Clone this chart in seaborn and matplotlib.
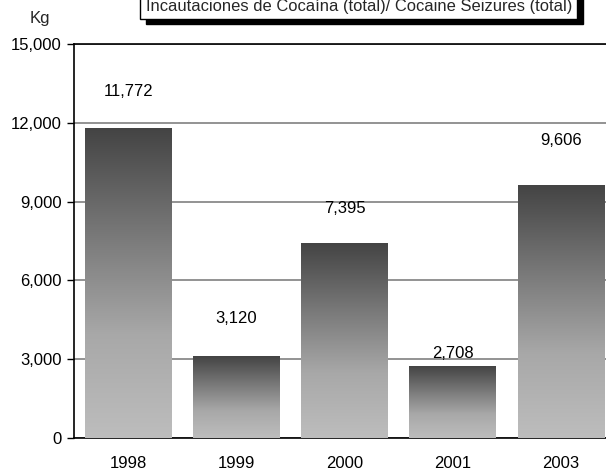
import numpy as np
import pandas as pd
import matplotlib
matplotlib.use("Agg")
import matplotlib.pyplot as plt
import matplotlib.patches as mpatches
from matplotlib.colors import LinearSegmentedColormap
import seaborn as sns

years = ["1998", "1999", "2000", "2001", "2003"]
seizures = [11772, 3120, 7395, 2708, 9606]
value_labels = ["11,772", "3,120", "7,395", "2,708", "9,606"]
label_offsets_px = [37, 38, 35, 13, 45]
y_ticks = [0, 3000, 6000, 9000, 12000, 15000]
y_tick_labels = ["0", "3,000", "6,000", "9,000", "12,000", "15,000"]
title = "Incautaciones de Cocaína (total)/ Cocaine Seizures (total)"
unit = "Kg"

sns.set_theme(style="white")
plt.rcParams['font.family'] = ['Liberation Sans', 'DejaVu Sans']

W, H = 606, 474
FS = 12
fig = plt.figure(figsize=(W / 100, H / 100), dpi=100)
ax = fig.add_axes([74 / W, 36 / H, 541 / W, 394 / H])

df = pd.DataFrame({"year": years, "kg": seizures})
sns.barplot(data=df, x="year", y="kg", ax=ax, width=0.8, color="#888888",
            saturation=1, errorbar=None, zorder=3)

cmap = LinearSegmentedColormap.from_list("g", ["#bdbdbd", "#a8a8a8", "#777777", "#444444"])
grad = np.linspace(0, 1, 256).reshape(-1, 1)
for p in ax.patches:
    x0, y0 = p.get_x(), p.get_y()
    w, h = p.get_width(), p.get_height()
    ax.imshow(grad, extent=[x0, x0 + w, y0, y0 + h], origin="lower",
              aspect="auto", cmap=cmap, zorder=4)
    p.set_facecolor("none")
    p.set_edgecolor("none")
ax.set_xlim(-0.5, len(years) - 0.5)
ax.set_ylim(0, 15000)

ax.set_yticks(y_ticks)
ax.set_yticklabels(y_tick_labels, fontsize=FS, color="black")
ax.yaxis.grid(True, color="#808080", linewidth=1.2, zorder=0)
ax.set_axisbelow(True)

ax.set_xticks(range(len(years)))
ax.set_xticklabels(years, fontsize=FS, color="black")
ax.set_xticks(np.arange(-0.5, len(years), 1.0), minor=True)
ax.tick_params(axis="x", which="major", length=0, pad=13)
ax.tick_params(axis="x", which="minor", length=5, width=1, color="black", direction="out")
ax.tick_params(axis="y", length=5, width=1, color="black", direction="out", pad=4, left=True)
ax.set_xlabel("")
ax.set_ylabel("")

for s in ["left", "bottom", "top"]:
    ax.spines[s].set_visible(True)
    ax.spines[s].set_color("black")
    ax.spines[s].set_linewidth(1.2)
ax.spines["right"].set_visible(False)
ax.spines["top"].set_zorder(5)

for i, (v, lab, off) in enumerate(zip(seizures, value_labels, label_offsets_px)):
    ax.annotate(lab, xy=(i, v), xytext=(0, off * 0.72), textcoords="offset points",
                ha="center", va="center", fontsize=FS, color="black", zorder=6)

fig.text(40 / W, 1 - 18 / H, unit, ha="center", va="center", fontsize=FS)

bx0, bx1, by0, by1 = 140, 577, -10, 19
shadow = mpatches.Rectangle((bx0 + 6, H - by1 - 5), bx1 - bx0, by1 - by0,
                            transform=None, facecolor="black", edgecolor="black", zorder=1)
box = mpatches.Rectangle((bx0, H - by1), bx1 - bx0, by1 - by0,
                         transform=None, facecolor="white", edgecolor="black", linewidth=1, zorder=2)
fig.patches.extend([shadow, box])
fig.text(359 / W, 1 - 7 / H, title, ha="center", va="center", fontsize=11.9, zorder=3)

fig.savefig("out.png", dpi=100)
